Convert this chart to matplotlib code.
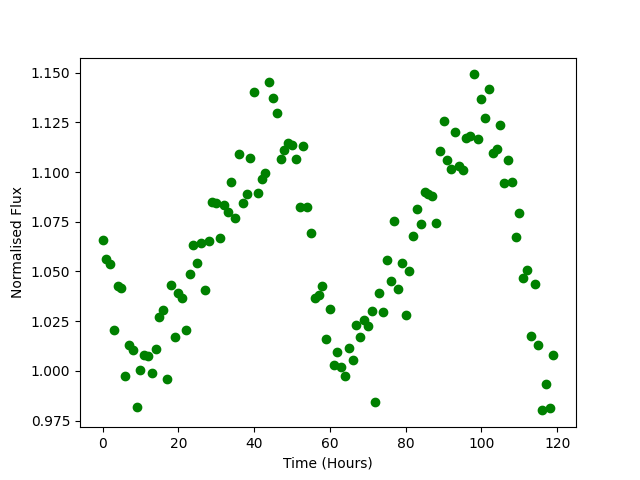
import matplotlib
matplotlib.use("Agg")
import matplotlib.pyplot as plt
import numpy as np

hours = list(range(120))
flux = [
    1.0656, 1.0560, 1.0537, 1.0205, 1.0426, 1.0415, 0.9973, 1.0129, 1.0104, 0.9816,
    1.0002, 1.0079, 1.0074, 0.9987, 1.0109, 1.0272, 1.0305, 0.9957, 1.0431, 1.0170,
    1.0389, 1.0364, 1.0205, 1.0485, 1.0632, 1.0540, 1.0644, 1.0406, 1.0654, 1.0847,
    1.0844, 1.0666, 1.0832, 1.0798, 1.0948, 1.0767, 1.1089, 1.0844, 1.0889, 1.1070,
    1.1400, 1.0892, 1.0963, 1.0993, 1.1451, 1.1370, 1.1295, 1.1063, 1.1109, 1.1145,
    1.1134, 1.1063, 1.0822, 1.1129, 1.0822, 1.0691, 1.0364, 1.0380, 1.0425, 1.0158,
    1.0309, 1.0029, 1.0093, 1.0017, 0.9973, 1.0113, 1.0057, 1.0229, 1.0168, 1.0255,
    1.0223, 1.0300, 0.9841, 1.0389, 1.0294, 1.0555, 1.0450, 1.0752, 1.0410, 1.0540,
    1.0279, 1.0500, 1.0680, 1.0812, 1.0737, 1.0899, 1.0891, 1.0877, 1.0743, 1.1105,
    1.1255, 1.1060, 1.1013, 1.1200, 1.1028, 1.1008, 1.1170, 1.1181, 1.1491, 1.1164,
    1.1365, 1.1270, 1.1420, 1.1094, 1.1115, 1.1234, 1.0944, 1.1058, 1.0948, 1.0671,
    1.0793, 1.0465, 1.0505, 1.0173, 1.0436, 1.0128, 0.9801, 0.9932, 0.9811, 1.0078,
]

fig, ax = plt.subplots(figsize=(6.4, 4.8), dpi=100)
ax.plot(hours, flux, 'o', color='green')
ax.set_xlabel('Time (Hours)')
ax.set_ylabel('Normalised Flux')
fig.savefig('out.png')
